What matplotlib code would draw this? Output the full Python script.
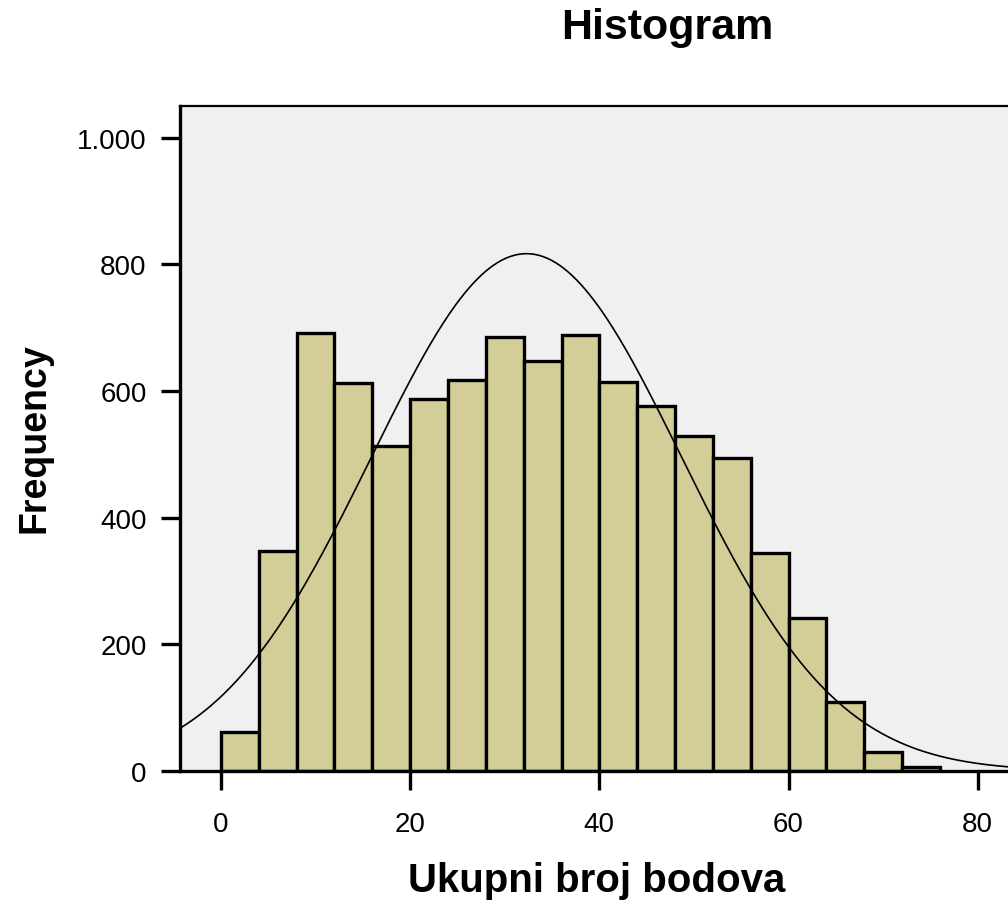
import numpy as np
from matplotlib import pyplot as plt
from matplotlib.ticker import FixedLocator, FixedFormatter

plt.rcParams['font.family'] = ['Liberation Sans', 'DejaVu Sans']

# histogram counts, bins of width 4 starting at 0
bin_edges = [0, 4, 8, 12, 16, 20, 24, 28, 32, 36, 40, 44, 48, 52, 56, 60, 64, 68, 72, 76]
counts = [61, 347, 691, 612, 513, 587, 617, 686, 648, 688,
          614, 576, 529, 495, 345, 241, 109, 30, 6]

# fitted normal curve parameters
mean_score = 32.3
sd_score = 16.4

xticks = [0, 20, 40, 60, 80]
yticks = [0, 200, 400, 600, 800, 1000]
ytick_labels = ['0', '200', '400', '600', '800', '1.000']

W, H = 1008, 903
fig = plt.figure(figsize=(W / 100, H / 100), dpi=100)
ax = fig.add_axes([180 / W, 1 - 772 / H, 1 - 180 / W, (772 - 107) / H])
ax.set_facecolor('#f0f0f0')

lefts = np.array(bin_edges[:-1])
widths = np.diff(bin_edges)
ax.bar(lefts, counts, width=widths, align='edge', color='#d3ce97',
       edgecolor='black', linewidth=2.4, zorder=2)

xmin, xmax = -4.33, 83.2
xs = np.linspace(xmin, xmax, 400)
n = sum(counts)
ys = n * 4 / (sd_score * np.sqrt(2 * np.pi)) * np.exp(-(xs - mean_score) ** 2 / (2 * sd_score ** 2))
ax.plot(xs, ys, color='black', linewidth=1.2, zorder=3)

ax.set_xlim(xmin, xmax)
ax.set_ylim(0, 1050)

ax.xaxis.set_major_locator(FixedLocator(xticks))
ax.yaxis.set_major_locator(FixedLocator(yticks))
ax.yaxis.set_major_formatter(FixedFormatter(ytick_labels))
ax.tick_params(axis='both', direction='out', length=14, width=2.4, labelsize=20)
ax.tick_params(axis='y', pad=10)
ax.tick_params(axis='x', pad=15)

ax.spines['right'].set_visible(False)
ax.spines['left'].set_linewidth(2.4)
ax.spines['bottom'].set_linewidth(2.4)
ax.spines['top'].set_linewidth(1.6)

fig.text(667 / W, 1 - 39 / H, 'Histogram', ha='center', va='baseline',
         fontsize=31, fontweight='bold')
fig.text(597 / W, 1 - 892 / H, 'Ukupni broj bodova', ha='center', va='baseline',
         fontsize=29, fontweight='bold')
fig.text(45 / W, 1 - 438 / H, 'Frequency', ha='center', va='baseline',
         rotation=90, rotation_mode='anchor', fontsize=27, fontweight='bold')

fig.savefig('out.png', dpi=100)
